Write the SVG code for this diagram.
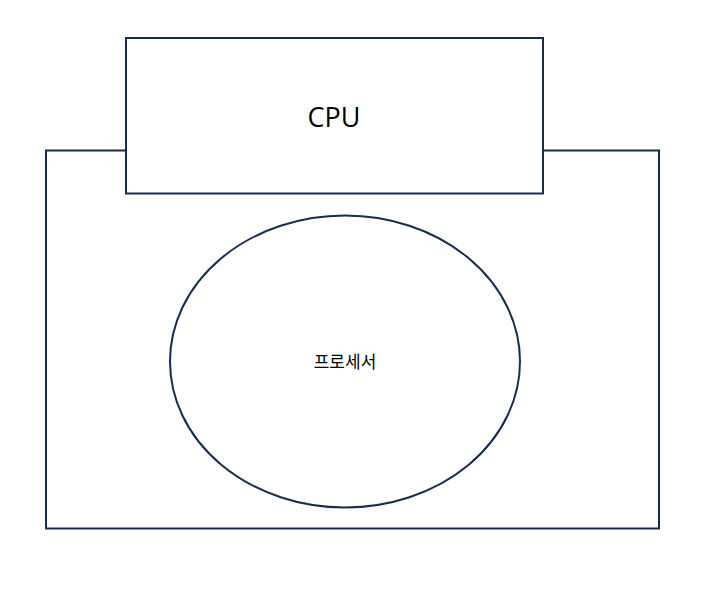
<svg xmlns="http://www.w3.org/2000/svg" width="712" height="592" viewBox="0 0 712 592">
<style>
.s{fill:#ffffff;stroke:#172c4f;stroke-width:2}
.t{font-family:"Open Sans","Noto Sans CJK KR",sans-serif;fill:#000;text-anchor:middle}
</style>
<rect width="712" height="592" fill="#ffffff"/>
<g id="outer"><rect class="s" x="46" y="150.5" width="613" height="378"/></g>
<g id="cpu"><rect class="s" x="126" y="38" width="417" height="155.5"/><text class="t" x="334" y="127" font-size="27">CPU</text></g>
<g id="process"><ellipse class="s" cx="345" cy="361.5" rx="175" ry="146"/><text class="t" x="345" y="368" font-size="17" style="font-family:'Noto Sans CJK KR',sans-serif">프로세서</text></g>
<g id="connectors"/>
</svg>
